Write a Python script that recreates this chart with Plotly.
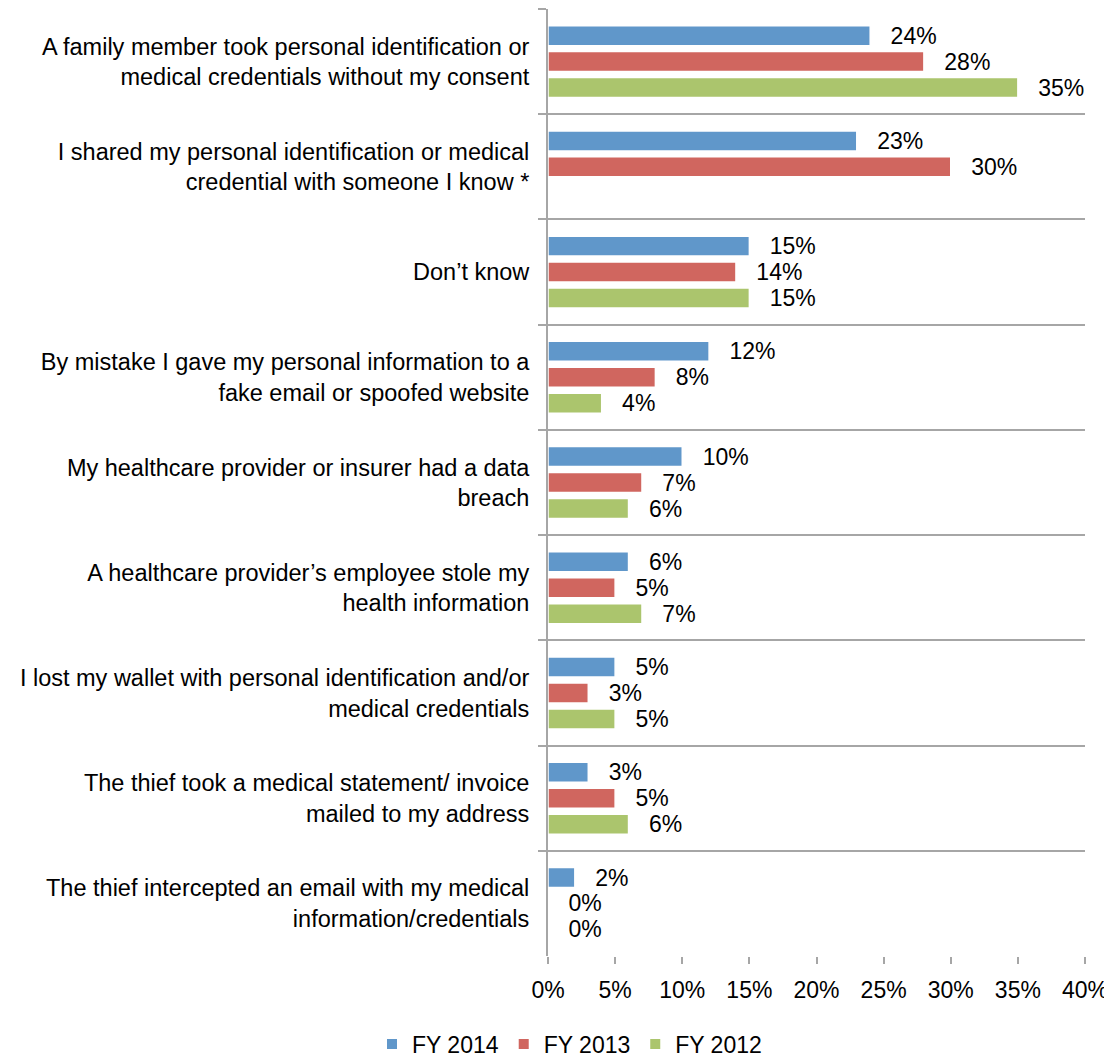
import plotly.graph_objects as go

categories = [
    "A family member took personal identification or<br>medical credentials without my consent",
    "I shared my personal identification or medical<br>credential with someone I know *",
    "Don\u2019t know",
    "By mistake I gave my personal information to a<br>fake email or spoofed website",
    "My healthcare provider or insurer had a data<br>breach",
    "A healthcare provider\u2019s employee stole my<br>health information",
    "I lost my wallet with personal identification and/or<br>medical credentials",
    "The thief took a medical statement/ invoice<br>mailed to my address",
    "The thief intercepted an email with my medical<br>information/credentials",
]
fy2014 = [24, 23, 15, 12, 10, 6, 5, 3, 2]
fy2013 = [28, 30, 14, 8, 7, 5, 3, 5, 0]
fy2012 = [35, None, 15, 4, 6, 7, 5, 6, 0]
series_names = ["FY 2014", "FY 2013", "FY 2012"]
colors = ["#6097CA", "#D0665F", "#ABC56D"]
x_ticks = [0, 5, 10, 15, 20, 25, 30, 35, 40]
x_tick_labels = [f"{v}%" for v in x_ticks]

FONT = "Liberation Sans, Arial, sans-serif"
FS = 23

fig = go.Figure()
for name, vals, col in zip(series_names, [fy2014, fy2013, fy2012], colors):
    texts = [("" if v is None else f"  \u2009{v}%") for v in vals]
    fig.add_trace(go.Bar(
        y=categories, x=vals, name=name, orientation="h",
        marker=dict(color=col, line=dict(color="white", width=1.5)),
        text=texts, textposition="outside", cliponaxis=False,
        textfont=dict(family=FONT, size=FS, color="#000000"),
        hoverinfo="x+y",
    ))

fig.update_layout(
    width=1104, height=1049,
    barmode="group", bargap=0.26, bargroupgap=0.23,
    paper_bgcolor="white", plot_bgcolor="white",
    margin=dict(l=540, r=27, t=1, b=101, autoexpand=False),
    font=dict(family=FONT, size=FS, color="#000000"),
    showlegend=True,
    legend=dict(orientation="h", x=0.04, xanchor="center", y=-0.093, yanchor="middle",
                font=dict(family=FONT, size=FS), traceorder="normal",
                itemwidth=30, itemsizing="constant"),
    uniformtext=dict(minsize=FS, mode="show"),
)
fig.update_xaxes(
    range=[0, 40], tickvals=x_ticks, ticktext=x_tick_labels,
    showgrid=False, zeroline=False, showline=False,
    ticks="outside", ticklen=7, tickcolor="#A6A6A6", tickwidth=2,
    tickfont=dict(family=FONT, size=FS), ticklabelstandoff=6,
)
fig.update_yaxes(
    type="category", range=[8.499, -0.5], tickson="boundaries",
    showgrid=True, gridcolor="#A6A6A6", gridwidth=2,
    showline=True, linecolor="#A6A6A6", linewidth=2,
    ticks="outside", ticklen=8, tickcolor="#A6A6A6", tickwidth=2,
    tickfont=dict(family=FONT, size=23.5), ticklabelstandoff=12,
)
fig.write_html("out.html")
